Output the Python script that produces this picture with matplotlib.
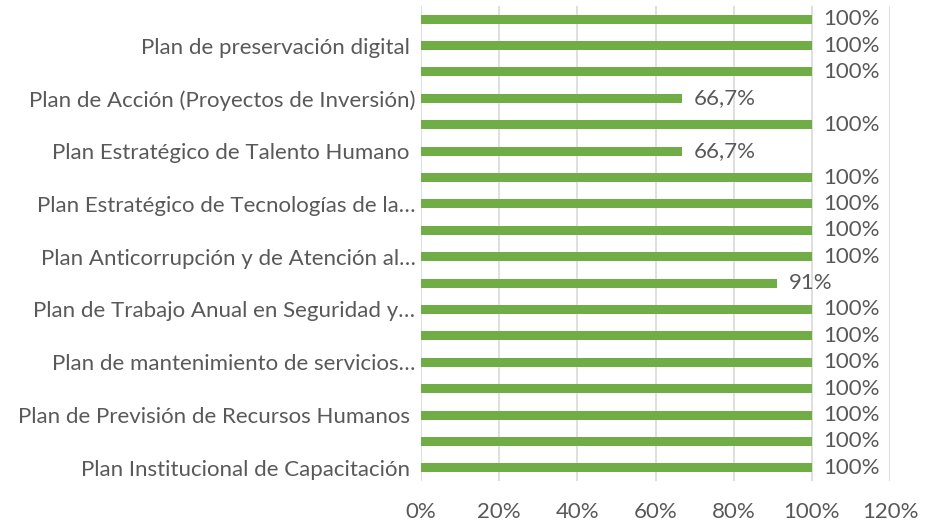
import matplotlib
matplotlib.use("Agg")
import matplotlib.pyplot as plt
import numpy as np

# bottom to top, as drawn by the reference
categories = [
    "Plan Institucional de Capacitación ",
    "",
    "Plan de Previsión de Recursos Humanos ",
    "",
    "Plan de mantenimiento de servicios…",
    "",
    "Plan de Trabajo Anual en Seguridad y…",
    "",
    "Plan Anticorrupción y de Atención al…",
    "",
    "Plan Estratégico de Tecnologías de la…",
    "",
    "Plan Estratégico de Talento Humano ",
    "",
    "Plan de Acción (Proyectos de Inversión)",
    "",
    "Plan de preservación digital ",
    "",
]
values = [100, 100, 100, 100, 100, 100, 100, 91, 100, 100,
          100, 100, 66.7, 100, 66.7, 100, 100, 100]
value_labels = [("%.1f%%" % v).replace(".", ",") if v % 1 else "%d%%" % v
                for v in values]
xticks = [0, 20, 40, 60, 80, 100, 120]

green = "#70AD47"
text_color = "#595959"
fs = 16
plt.rcParams["font.family"] = ["Lato", "DejaVu Sans"]

fig = plt.figure(figsize=(9.34, 5.24), dpi=100)
ax = fig.add_axes([421 / 934, 1 - 481 / 524, 469 / 934, 475 / 524])

y = np.arange(len(values))
ax.barh(y, values, height=0.34, color=green, zorder=3)
for yi, v, lab in zip(y, values, value_labels):
    ax.text(v + 3.0, yi, lab, va="center", ha="left", fontsize=fs,
            color=text_color)

ax.set_xlim(0, 120)
ax.set_ylim(-0.5, len(values) - 0.5)
ax.set_xticks(xticks)
ax.set_xticklabels(["%d%%" % t for t in xticks], fontsize=fs, color=text_color)
ax.set_yticks(y)
ax.set_yticklabels(categories, fontsize=fs, color=text_color)
ax.tick_params(axis="y", length=0, pad=4)
ax.tick_params(axis="x", length=0, pad=15)
ax.grid(axis="x", color="#D9D9D9", linewidth=1.2, zorder=0)
for s in ax.spines.values():
    s.set_visible(False)

fig.savefig("out.png", dpi=100)
